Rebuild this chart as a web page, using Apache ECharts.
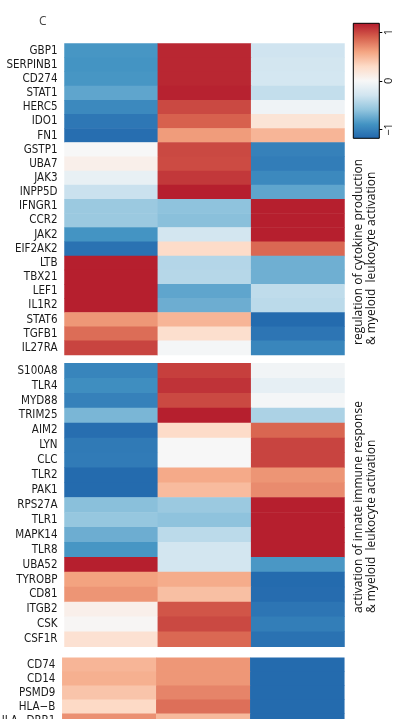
<!DOCTYPE html>
<html>
<head>
<meta charset="utf-8">
<script src="https://cdn.jsdelivr.net/npm/echarts@6/dist/echarts.min.js"></script>
<style>
  html, body { margin: 0; padding: 0; background: #fff; }
  #chart { width: 409px; height: 719px; }
</style>
</head>
<body>
<div id="chart"></div>
<script>
// Row-scaled expression (z-scores), three sample groups per gene.
const columns = ['S1', 'S2', 'S3'];

const genes1 = ['GBP1', 'SERPINB1', 'CD274', 'STAT1', 'HERC5', 'IDO1', 'FN1', 'GSTP1', 'UBA7', 'JAK3',
  'INPP5D', 'IFNGR1', 'CCR2', 'JAK2', 'EIF2AK2', 'LTB', 'TBX21', 'LEF1', 'IL1R2', 'STAT6', 'TGFB1', 'IL27RA'];
const expr1 = [
  [-0.87, 1.12, -0.30], [-0.88, 1.12, -0.28], [-0.87, 1.12, -0.27], [-0.78, 1.14, -0.36],
  [-0.95, 0.98, -0.06], [-1.07, 0.88, 0.20], [-1.13, 0.63, 0.50], [0.00, 0.98, -1.00],
  [0.08, 0.97, -1.03], [-0.12, 1.05, -0.95], [-0.33, 1.15, -0.78], [-0.55, -0.60, 1.15],
  [-0.55, -0.62, 1.15], [-0.88, -0.28, 1.15], [-1.10, 0.28, 0.85], [1.15, -0.43, -0.72],
  [1.15, -0.42, -0.72], [1.15, -0.78, -0.38], [1.15, -0.73, -0.40], [0.65, 0.50, -1.15],
  [0.83, 0.25, -1.08], [1.00, -0.02, -0.97]
];

const genes2 = ['S100A8', 'TLR4', 'MYD88', 'TRIM25', 'AIM2', 'LYN', 'CLC', 'TLR2', 'PAK1', 'RPS27A',
  'TLR1', 'MAPK14', 'TLR8', 'UBA52', 'TYROBP', 'CD81', 'ITGB2', 'CSK', 'CSF1R'];
const expr2 = [
  [-0.98, 1.02, -0.05], [-0.92, 1.07, -0.13], [-1.00, 0.98, -0.02], [-0.68, 1.15, -0.47],
  [-1.13, 0.28, 0.86], [-1.05, 0.00, 1.00], [-1.04, 0.00, 1.00], [-1.15, 0.56, 0.66],
  [-1.15, 0.47, 0.70], [-0.62, -0.55, 1.15], [-0.57, -0.60, 1.15], [-0.73, -0.40, 1.15],
  [-0.87, -0.28, 1.15], [1.15, -0.28, -0.86], [0.60, 0.55, -1.15], [0.66, 0.45, -1.14],
  [0.08, 0.93, -1.08], [0.02, 0.98, -1.02], [0.23, 0.85, -1.10]
];

const genes3 = ['CD74', 'CD14', 'PSMD9', 'HLA\u2212B', 'HLA\u2212DRB1'];
const expr3 = [
  [0.50, 0.65, -1.15], [0.53, 0.65, -1.15], [0.42, 0.73, -1.15], [0.30, 0.82, -1.15],
  [0.68, 0.48, -1.15]
];

// Colour scale: RdBu, blue = low, red = high
const palette = ['#2166AC', '#4393C3', '#92C5DE', '#D1E5F0', '#F7F7F7', '#FDDBC7', '#F4A582', '#D6604D', '#B2182B'];
const scaleMin = -1.18, scaleMax = 1.18;
const legendTicks = [-1, 0, 1];

const groupTitles = [
  'regulation of cytokine production\n& myeloid  leukocyte activation',
  'activation of innate immune response\n& myeloid  leukocyte activation'
];

const toCells = m => {
  const out = [];
  m.forEach((row, r) => row.forEach((v, c) => out.push([c, r, v])));
  return out;
};

const labelFont = '"Liberation Sans Narrow", "DejaVu Sans Condensed", sans-serif';
const textFont = '"Open Sans", "Noto Sans", sans-serif';

const blocks = [
  { genes: genes1, expr: expr1, grid: { left: 64.5, width: 280, top: 43.5, height: 311.5 } },
  { genes: genes2, expr: expr2, grid: { left: 64.5, width: 280, top: 363.3, height: 283.4 } },
  { genes: genes3, expr: expr3, grid: { left: 62.3, width: 282, top: 657.7, height: 70 } }
];

const grids = blocks.map(b => Object.assign({ outerBoundsMode: 'none', containLabel: false }, b.grid));
grids.push({ left: 353.3, top: 23.3, width: 26, height: 115, outerBoundsMode: 'none', containLabel: false });

const xAxes = blocks.map((b, i) => ({
  type: 'category', gridIndex: i, data: columns, show: false
}));
xAxes.push({ type: 'category', gridIndex: 3, data: ['bar'], show: false });

const yAxes = blocks.map((b, i) => ({
  type: 'category', gridIndex: i, data: b.genes, inverse: true,
  axisLine: { show: false }, axisTick: { show: false }, splitLine: { show: false },
  axisLabel: { interval: 0, hideOverlap: false, fontSize: 11.5, color: '#1a1a1a', margin: 7, fontFamily: labelFont }
}));
yAxes.push({
  type: 'value', gridIndex: 3, min: scaleMin, max: scaleMax, position: 'right',
  axisLine: { show: false }, splitLine: { show: false },
  axisTick: { show: true, length: 3, lineStyle: { color: '#000', width: 1 }, customValues: legendTicks },
  axisLabel: {
    customValues: legendTicks, rotate: 90, margin: 4, fontSize: 11, color: '#111', fontFamily: textFont,
    formatter: v => (v < 0 ? '\u2212' + Math.abs(v) : String(v))
  }
});

const series = blocks.map((b, i) => ({
  type: 'heatmap', xAxisIndex: i, yAxisIndex: i, data: toCells(b.expr),
  itemStyle: { borderWidth: 0 }, emphasis: { disabled: true }
}));

// colour key drawn through the legend axis
series.push({
  type: 'custom', xAxisIndex: 3, yAxisIndex: 3, data: [[0, 0]], silent: true,
  renderItem: (params, api) => {
    const top = api.coord([0, scaleMax]);
    const bottom = api.coord([0, scaleMin]);
    const w = api.size([1, 0])[0];
    const stops = palette.slice().reverse().map((c, k) => ({ offset: k / (palette.length - 1), color: c }));
    return {
      type: 'rect',
      shape: { x: top[0] - w / 2, y: top[1], width: w, height: bottom[1] - top[1] },
      style: { fill: new echarts.graphic.LinearGradient(0, 0, 0, 1, stops), stroke: '#000', lineWidth: 1 }
    };
  }
});

const chart = echarts.init(document.getElementById('chart'), null, { renderer: 'canvas' });
chart.setOption({
  animation: false,
  backgroundColor: '#fff',
  title: {
    text: 'C', left: 34, top: 11,
    textStyle: { fontSize: 12, fontWeight: 'normal', color: '#444', fontFamily: textFont }
  },
  grid: grids,
  xAxis: xAxes,
  yAxis: yAxes,
  visualMap: {
    type: 'continuous', show: false, min: scaleMin, max: scaleMax,
    seriesIndex: [0, 1, 2], inRange: { color: palette }
  },
  graphic: [
    {
      type: 'text', x: 352.5, y: 345, rotation: Math.PI / 2,
      style: { text: groupTitles[0], fontSize: 12, lineHeight: 13, fill: '#111', fontFamily: textFont,
        align: 'left', verticalAlign: 'top' }
    },
    {
      type: 'text', x: 352.5, y: 613, rotation: Math.PI / 2,
      style: { text: groupTitles[1], fontSize: 12, lineHeight: 13, fill: '#111', fontFamily: textFont,
        align: 'left', verticalAlign: 'top' }
    }
  ],
  series: series
});
</script>
</body>
</html>
